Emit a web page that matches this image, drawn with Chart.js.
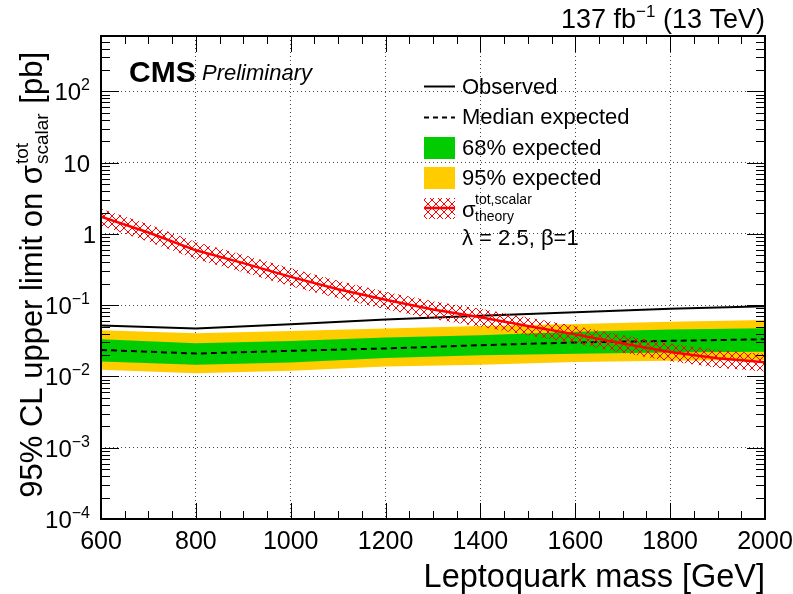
<!DOCTYPE html>
<html>
<head>
<meta charset="utf-8">
<script src="https://cdn.jsdelivr.net/npm/chart.js@4.4.1/dist/chart.umd.min.js"></script>
<style>
  html, body { margin: 0; padding: 0; background: #fff; }
</style>
</head>
<body>
<canvas id="limitChart" width="793" height="594"></canvas>
<script>
// expected / observed limits, 200 GeV steps
const massPoints = [600, 800, 1000, 1200, 1400, 1600, 1800, 2000];
const observedLimit = [0.052, 0.047, 0.054, 0.063, 0.071, 0.080, 0.089, 0.097];
const expectedMedian = [0.0236, 0.021, 0.0229, 0.0247, 0.0275, 0.030, 0.0316, 0.0333];
const expected68Up = [0.0334, 0.0293, 0.0316, 0.0352, 0.038, 0.0425, 0.0455, 0.0476];
const expected68Down = [0.0162, 0.0146, 0.0157, 0.0182, 0.0198, 0.0208, 0.0217, 0.0222];
const expected95Up = [0.0446, 0.0405, 0.0436, 0.047, 0.0513, 0.0545, 0.0584, 0.0622];
const expected95Down = [0.0124, 0.0111, 0.012, 0.0138, 0.0146, 0.016, 0.0166, 0.0171];

// theory cross section, 100 GeV steps
const theoryMass = [600, 700, 800, 900, 1000, 1100, 1200, 1300, 1400, 1500, 1600, 1700, 1800, 1900, 2000];
const theoryXsec = [1.75, 1.05, 0.59, 0.39, 0.25, 0.168, 0.119, 0.087, 0.068, 0.051, 0.039, 0.029, 0.022, 0.018, 0.0158];
const theoryXsecUp = [2.25, 1.37, 0.77, 0.51, 0.33, 0.22, 0.155, 0.114, 0.089, 0.067, 0.051, 0.038, 0.029, 0.0235, 0.0207];
const theoryXsecDown = [1.3, 0.78, 0.44, 0.29, 0.185, 0.125, 0.088, 0.064, 0.050, 0.038, 0.029, 0.0215, 0.0163, 0.0133, 0.0117];

const massTicks = [600, 800, 1000, 1200, 1400, 1600, 1800, 2000];
const xsecTicks = [1e-4, 1e-3, 1e-2, 1e-1, 1, 10, 100];
const xsecTickLabels = [["10", "\u22124"], ["10", "\u22123"], ["10", "\u22122"], ["10", "\u22121"], ["1", ""], ["10", ""], ["10", "2"]];

const FONT = '"Liberation Sans", Arial, Helvetica, sans-serif';
const GREEN = "#00cc00";
const YELLOW = "#ffcc00";
const RED = "#ff0000";

const canvas = document.getElementById("limitChart");
const ctx0 = canvas.getContext("2d");

function makeHatch() {
  const c = document.createElement("canvas");
  c.width = 8; c.height = 8;
  const g = c.getContext("2d");
  g.strokeStyle = RED;
  g.lineWidth = 1;
  g.beginPath();
  g.moveTo(0, 0); g.lineTo(8, 8);
  g.moveTo(8, 0); g.lineTo(0, 8);
  g.stroke();
  return ctx0.createPattern(c, "repeat");
}
const hatch = makeHatch();

function pts(xs, ys) {
  return xs.map((x, i) => ({ x: x, y: ys[i] }));
}

function font(size, extra) {
  return (extra || "") + " " + size + "px " + FONT;
}

// left-to-right text run; parts: {t, size, dy, style}
function runWidth(ctx, parts) {
  let w = 0;
  parts.forEach(p => { ctx.font = font(p.size, p.style); w += ctx.measureText(p.t).width; });
  return w;
}
function drawRun(ctx, parts, x, y) {
  parts.forEach(p => {
    ctx.font = font(p.size, p.style);
    ctx.fillText(p.t, x, y + (p.dy || 0));
    x += ctx.measureText(p.t).width;
  });
  return x;
}

const cmsDecor = {
  id: "cmsDecor",
  afterDatasetsDraw(chart) {
    const { ctx, chartArea: a, scales: { x, y } } = chart;
    ctx.save();
    ctx.strokeStyle = "#000";
    ctx.lineWidth = 1;
    ctx.beginPath();
    for (let m = x.min; m <= x.max; m += 50) {
      const px = Math.round(x.getPixelForValue(m)) + 0.5;
      const len = m % 200 === 0 ? 16 : 8;
      ctx.moveTo(px, a.bottom); ctx.lineTo(px, a.bottom - len);
      ctx.moveTo(px, a.top); ctx.lineTo(px, a.top + len);
    }
    for (let e = -4; e <= 2; e++) {
      for (let k = 1; k <= 9; k++) {
        const v = k * Math.pow(10, e);
        if (v > y.max) break;
        const py = Math.round(y.getPixelForValue(v)) + 0.5;
        const len = k === 1 ? 18 : 9;
        ctx.moveTo(a.left, py); ctx.lineTo(a.left + len, py);
        ctx.moveTo(a.right, py); ctx.lineTo(a.right - len, py);
      }
    }
    ctx.stroke();
    ctx.lineWidth = 2;
    ctx.strokeRect(a.left, a.top, a.right - a.left, a.bottom - a.top);
    ctx.restore();
  },
  afterDraw(chart) {
    const { ctx, chartArea: a, scales: { x, y } } = chart;
    ctx.save();
    ctx.fillStyle = "#000";
    ctx.textBaseline = "alphabetic";

    // x tick labels
    ctx.textAlign = "center";
    ctx.font = font(25);
    massTicks.forEach(m => ctx.fillText(String(m), x.getPixelForValue(m), a.bottom + 30));

    // y tick labels with exponents
    ctx.textAlign = "left";
    xsecTicks.forEach((v, i) => {
      const [base, exp] = xsecTickLabels[i];
      const parts = [{ t: base, size: 24 }];
      if (exp) parts.push({ t: exp, size: 16, dy: -10 });
      const w = runWidth(ctx, parts);
      const right = exp || base === "10" ? 90 : 96;
      drawRun(ctx, parts, right - w, y.getPixelForValue(v) + 9);
    });

    // x title
    ctx.textAlign = "right";
    ctx.font = font(32.5);
    ctx.fillText("Leptoquark mass [GeV]", a.right, 587);

    // y title, rotated
    ctx.textAlign = "left";
    const head = [{ t: "95% CL upper limit on ", size: 31 }, { t: "\u03c3", size: 31 }];
    ctx.font = font(19);
    const supW = ctx.measureText("tot").width;
    const subW = ctx.measureText("scalar").width;
    const tail = [{ t: " [pb]", size: 31 }];
    const total = runWidth(ctx, head) + Math.max(supW, subW) + 2 + runWidth(ctx, tail);
    ctx.save();
    ctx.translate(42, 52 + total);
    ctx.rotate(-Math.PI / 2);
    let cx = drawRun(ctx, head, 0, 0) + 1;
    ctx.font = font(19);
    ctx.fillText("tot", cx, -14);
    ctx.fillText("scalar", cx, 6);
    cx += Math.max(supW, subW) + 1;
    drawRun(ctx, tail, cx, 0);
    ctx.restore();

    // luminosity label
    const lumi = [{ t: "137 fb", size: 27 }, { t: "\u22121", size: 17, dy: -11 }, { t: " (13 TeV)", size: 27 }];
    drawRun(ctx, lumi, a.right - runWidth(ctx, lumi), 28);

    // CMS label
    ctx.font = font(30, "bold");
    ctx.fillText("CMS", 129, 82);
    ctx.font = font(22, "italic");
    ctx.fillText("Preliminary", 202, 80);

    // legend
    const lx = 424, tx = 462;
    ctx.strokeStyle = "#000";
    ctx.lineWidth = 2;
    ctx.beginPath(); ctx.moveTo(lx, 86.5); ctx.lineTo(lx + 31, 86.5); ctx.stroke();
    ctx.setLineDash([5, 4]);
    ctx.beginPath(); ctx.moveTo(lx, 117.5); ctx.lineTo(lx + 31, 117.5); ctx.stroke();
    ctx.setLineDash([]);
    ctx.fillStyle = GREEN; ctx.fillRect(lx, 137, 31, 22);
    ctx.fillStyle = YELLOW; ctx.fillRect(lx, 167, 31, 22);
    ctx.fillStyle = hatch; ctx.fillRect(lx, 198, 31, 21);
    ctx.strokeStyle = RED; ctx.lineWidth = 2.5;
    ctx.beginPath(); ctx.moveTo(lx, 208); ctx.lineTo(lx + 31, 208); ctx.stroke();

    ctx.fillStyle = "#000";
    ctx.font = font(22);
    ctx.fillText("Observed", tx, 94);
    ctx.fillText("Median expected", tx, 124);
    ctx.fillText("68% expected", tx, 155);
    ctx.fillText("95% expected", tx, 185);
    ctx.fillText("\u03c3", tx, 217);
    ctx.font = font(14);
    ctx.fillText("tot,scalar", tx + 13, 204);
    ctx.fillText("theory", tx + 13, 221);
    ctx.font = font(22);
    ctx.fillText("\u03bb = 2.5, \u03b2=1", tx, 245);
    ctx.restore();
  }
};

const lineBase = { pointRadius: 0, tension: 0, fill: false };

new Chart(canvas, {
  type: "line",
  data: {
    datasets: [
      Object.assign({}, lineBase, { label: "theory", data: pts(theoryMass, theoryXsec), borderColor: RED, borderWidth: 2.5 }),
      Object.assign({}, lineBase, { label: "theory up", data: pts(theoryMass, theoryXsecUp), borderWidth: 0, borderColor: "rgba(0,0,0,0)", backgroundColor: hatch, fill: "+1" }),
      Object.assign({}, lineBase, { label: "theory down", data: pts(theoryMass, theoryXsecDown), borderWidth: 0, borderColor: "rgba(0,0,0,0)" }),
      Object.assign({}, lineBase, { label: "Observed", data: pts(massPoints, observedLimit), borderColor: "#000", borderWidth: 2 }),
      Object.assign({}, lineBase, { label: "Median expected", data: pts(massPoints, expectedMedian), borderColor: "#000", borderWidth: 2, borderDash: [6, 4] }),
      Object.assign({}, lineBase, { label: "68% up", data: pts(massPoints, expected68Up), borderWidth: 0, borderColor: GREEN, backgroundColor: GREEN, fill: "+1" }),
      Object.assign({}, lineBase, { label: "68% down", data: pts(massPoints, expected68Down), borderWidth: 0, borderColor: GREEN }),
      Object.assign({}, lineBase, { label: "95% up", data: pts(massPoints, expected95Up), borderWidth: 0, borderColor: YELLOW, backgroundColor: YELLOW, fill: "+1" }),
      Object.assign({}, lineBase, { label: "95% down", data: pts(massPoints, expected95Down), borderWidth: 0, borderColor: YELLOW })
    ]
  },
  options: {
    responsive: false,
    animation: false,
    devicePixelRatio: 1,
    layout: { padding: { left: 101, right: 28, top: 36, bottom: 75 } },
    plugins: { legend: { display: false }, tooltip: { enabled: false } },
    scales: {
      x: {
        type: "linear",
        min: 600, max: 2000,
        ticks: { display: false, stepSize: 200 },
        grid: { color: "#444", lineWidth: 1, drawTicks: false },
        border: { display: false, dash: [1, 3] },
        afterFit(s) { s.height = 0; }
      },
      y: {
        type: "logarithmic",
        min: 1e-4, max: 600,
        ticks: { display: false },
        afterBuildTicks(s) { s.ticks = xsecTicks.map(v => ({ value: v })); },
        grid: { color: "#444", lineWidth: 1, drawTicks: false },
        border: { display: false, dash: [1, 3] },
        afterFit(s) { s.width = 0; }
      }
    }
  },
  plugins: [cmsDecor]
});
</script>
</body>
</html>
